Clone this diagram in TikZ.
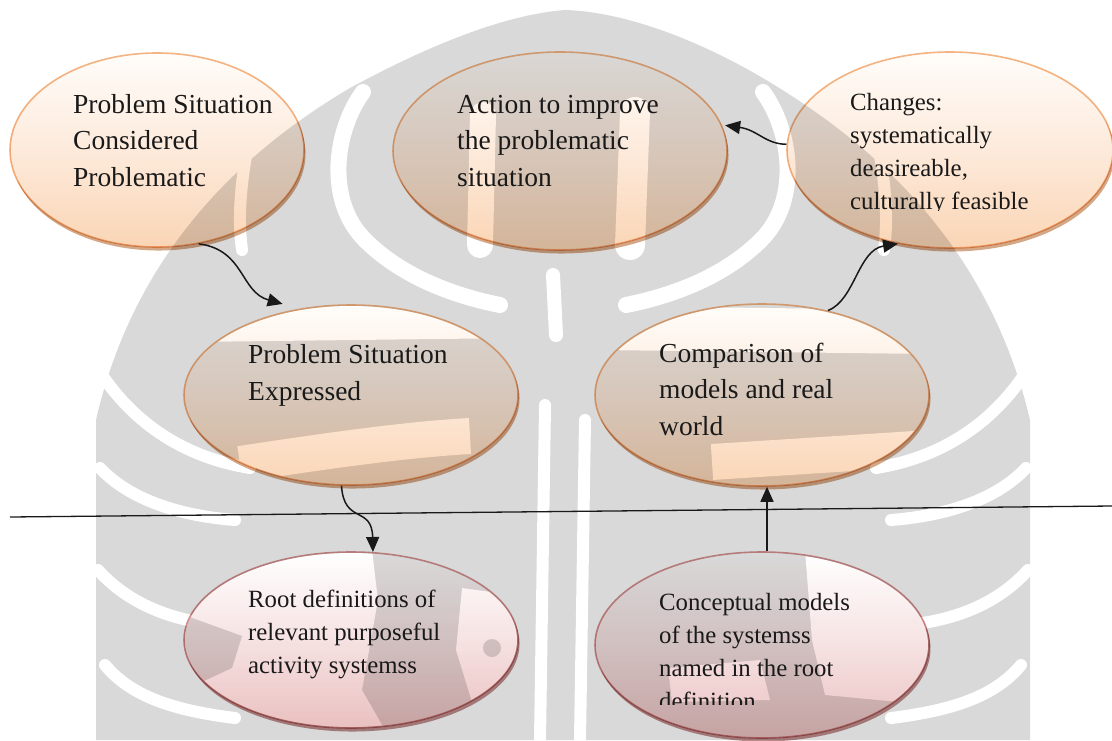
\documentclass[tikz,border=0pt]{standalone}
\usepackage{fontspec}
\setmainfont{Liberation Serif}
\usetikzlibrary{shapes.geometric,arrows.meta,calc}

\definecolor{wmgray}{RGB}{217,217,217}
\definecolor{orEdge}{RGB}{244,181,132}
\definecolor{orTop}{RGB}{255,253,250}
\definecolor{orMid}{RGB}{253,234,219}
\definecolor{orBot}{RGB}{250,213,181}
\definecolor{orRim}{RGB}{212,168,134}
\definecolor{pkEdge}{RGB}{214,146,146}
\definecolor{pkTop}{RGB}{255,255,255}
\definecolor{pkMid}{RGB}{246,226,226}
\definecolor{pkBot}{RGB}{234,192,192}
\definecolor{pkRim}{RGB}{190,140,140}
\definecolor{ink}{RGB}{25,25,25}

\tikzset{
  oval/.style={ellipse, inner sep=0pt, line width=1.6pt},
  orange oval/.style={oval, draw=orEdge, top color=orTop, bottom color=orBot, middle color=orMid},
  pink oval/.style={oval, draw=pkEdge, top color=pkTop, bottom color=pkBot, middle color=pkMid},
  big text/.style={anchor=base west, align=left, inner sep=0pt, text=ink,
    font=\fontsize{27.5}{36.5}\selectfont},
  small text/.style={anchor=base west, align=left, inner sep=0pt, text=ink,
    font=\fontsize{24.8}{33}\selectfont},
  flow/.style={line width=1.5pt, draw=ink, -{Triangle[length=15pt,width=13pt]}},
  gap/.style={draw=white, line width=16pt, line cap=round},
}

% thin bevel crescent along the lower right of an ellipse:
% centre x, centre y, x radius, y radius, colour
\newcommand\bevelrim[5]{%
  \pgfmathsetmacro\bevt{atan(0.5*#4/#3)}%
  \fill[#5] ($(#1+1.5,#2+3.5)+(\bevt+180:#3pt and #4pt)$)
    arc[start angle=\bevt+180, end angle=\bevt+360, x radius=#3pt, y radius=#4pt]
    -- ($(#1,#2)+(\bevt:#3pt and #4pt)$)
    arc[start angle=\bevt, end angle=\bevt-180, x radius=#3pt, y radius=#4pt] -- cycle;
}

\begin{document}
\begin{tikzpicture}[x=1pt, y=-1pt]
\useasboundingbox (0,0) rectangle (1112,740);
\fill[white] (0,0) rectangle (1112,740);

% ---- faint emblem in the background ----
\fill[wmgray] (350,88) .. controls (420,50) and (500,15) .. (565,10)
  .. controls (630,12) and (710,45) .. (776,86)
  .. controls (880,150) and (990,250) .. (1030,420) -- (1030,740) -- (96,740) -- (96,420)
  .. controls (135,250) and (245,150) .. (350,88) -- cycle;
\foreach \m in {1,-1} {
  \begin{scope}[shift={({\m==1 ? 0 : 1126},0)}, xscale=\m]
    \draw[gap] (363,92) .. controls (335,130) and (325,200) .. (365,240)
      .. controls (400,275) and (450,295) .. (500,305);
    \draw[gap, line width=12pt] (100,372) .. controls (125,410) and (170,455) .. (250,468);
    \draw[gap, line width=12pt] (100,468) .. controls (125,495) and (170,515) .. (235,520);
    \draw[gap, line width=12pt] (98,570) .. controls (125,600) and (165,620) .. (220,625);
    \draw[gap, line width=12pt] (105,665) .. controls (130,695) and (170,710) .. (235,718);
    \draw[gap, line width=12pt] (247,150) .. controls (240,190) and (238,220) .. (242,250);
  \end{scope}
}
\draw[gap, line width=26pt] (483,115) -- (480,245);
\draw[gap, line width=30pt] (635,112) -- (630,245);
\draw[gap, line width=14pt] (553,275) -- (556,335);
\draw[gap, line width=12pt] (545,405) -- (540,740);
\draw[gap, line width=12pt] (585,420) -- (580,740);
% lighter parts of the emblem seen through the lower ellipses
\begin{scope}
  \clip (351,395) ellipse [x radius=166pt, y radius=89pt];
  \draw[gap, line width=40pt, line cap=butt] (190,322) -- (520,318);
  \draw[gap, line width=36pt, line cap=butt] (240,464) .. controls (320,452) and (400,440) .. (470,436);
\end{scope}
\begin{scope}
  \clip (762,395) ellipse [x radius=166pt, y radius=90pt];
  \draw[gap, line width=44pt, line cap=butt] (600,328) -- (930,332);
  \draw[gap, line width=36pt, line cap=butt] (712,462) -- (930,448);
\end{scope}
\begin{scope}
  \clip (351,640) ellipse [x radius=166pt, y radius=87pt];
  \fill[white] (184,550) -- (372,550) -- (378,600) -- (362,690) -- (385,730) -- (184,730) -- cycle;
  \fill[wmgray] (184,615) -- (242,636) -- (232,668) -- (184,690) -- cycle;
  \fill[white] (462,588) -- (520,596) -- (520,700) -- (472,702) -- (456,650) -- cycle;
  \fill[wmgray] (492,648) circle [radius=9pt];
\end{scope}
\begin{scope}
  \clip (762,645) ellipse [x radius=166pt, y radius=92pt];
  \fill[white] (805,550) -- (930,550) -- (930,705) -- (825,695) -- (812,640) -- cycle;
  \fill[white] (668,668) -- (760,660) -- (770,700) -- (672,702) -- cycle;
\end{scope}

% ---- ellipses, multiplied over the emblem ----
\begin{scope}[blend mode=multiply]
  \bevelrim{157}{150}{147}{97}{orRim}
  \bevelrim{560}{151}{167}{99}{orRim}
  \bevelrim{950}{150}{163}{98}{orRim}
  \bevelrim{351}{395}{167}{90}{orRim}
  \bevelrim{762}{395}{167}{91}{orRim}
  \bevelrim{351}{640}{167}{88}{pkRim}
  \bevelrim{762}{645}{167}{93}{pkRim}

  \node[orange oval, minimum width=294pt, minimum height=194pt] (e1) at (157,150) {};
  \node[orange oval, minimum width=334pt, minimum height=198pt] (e2) at (560,151) {};
  \node[orange oval, minimum width=326pt, minimum height=196pt] (e3) at (950,150) {};
  \node[orange oval, minimum width=334pt, minimum height=180pt] (e4) at (351,395) {};
  \node[orange oval, minimum width=334pt, minimum height=182pt] (e5) at (762,395) {};
  \node[pink oval, minimum width=334pt, minimum height=176pt] (e6) at (351,640) {};
  \node[pink oval, minimum width=334pt, minimum height=186pt] (e7) at (762,645) {};
\end{scope}

% ---- labels ----
\node[big text] (t1) at (73,186) {Problem Situation\\Considered\\Problematic};
\node[big text] (t2) at (457,186) {Action to improve\\the problematic\\situation};
\begin{scope}
  \clip (787,40) rectangle (1112,210);
  \node[small text] (t3) at (850,209) {Changes:\\systematically\\deasireable,\\culturally feasible};
\end{scope}
\node[big text] (t4) at (248,400) {Problem Situation\\Expressed};
\node[big text] (t5) at (659,435) {Comparison of\\models and real\\world};
\node[small text] (t6) at (248,673) {Root definitions of\\relevant purposeful\\activity systemss};
\begin{scope}
  \clip (595,560) rectangle (930,704);
  \node[small text] (t7) at (659,709) {Conceptual models\\of the systemss\\named in the root\\definition};
\end{scope}

% ---- separator between real world and systems thinking ----
\coordinate (sepL) at (10,517);
\coordinate (sepR) at (1112,506);
\draw[line width=1.3pt, draw=ink] (sepL) -- (sepR);

% ---- flow of the method ----
\draw[flow] (e1.-66) .. controls (245,250) and (240,292) .. ([shift={(-5,-7)}]e4.127);
\draw[flow] (e3.178) .. controls (765,144) and (758,130) .. ([shift={(3,0)}]e2.9);
\draw[flow] (e5.52) .. controls (855,300) and (858,250) .. (e3.-119);
\draw[flow] (e4.-96) .. controls (344,525) and (372,505) .. (e6.76);
\draw[flow] ([xshift=5pt]e7.north) -- ([xshift=5pt]e5.south);
\end{tikzpicture}
\end{document}
